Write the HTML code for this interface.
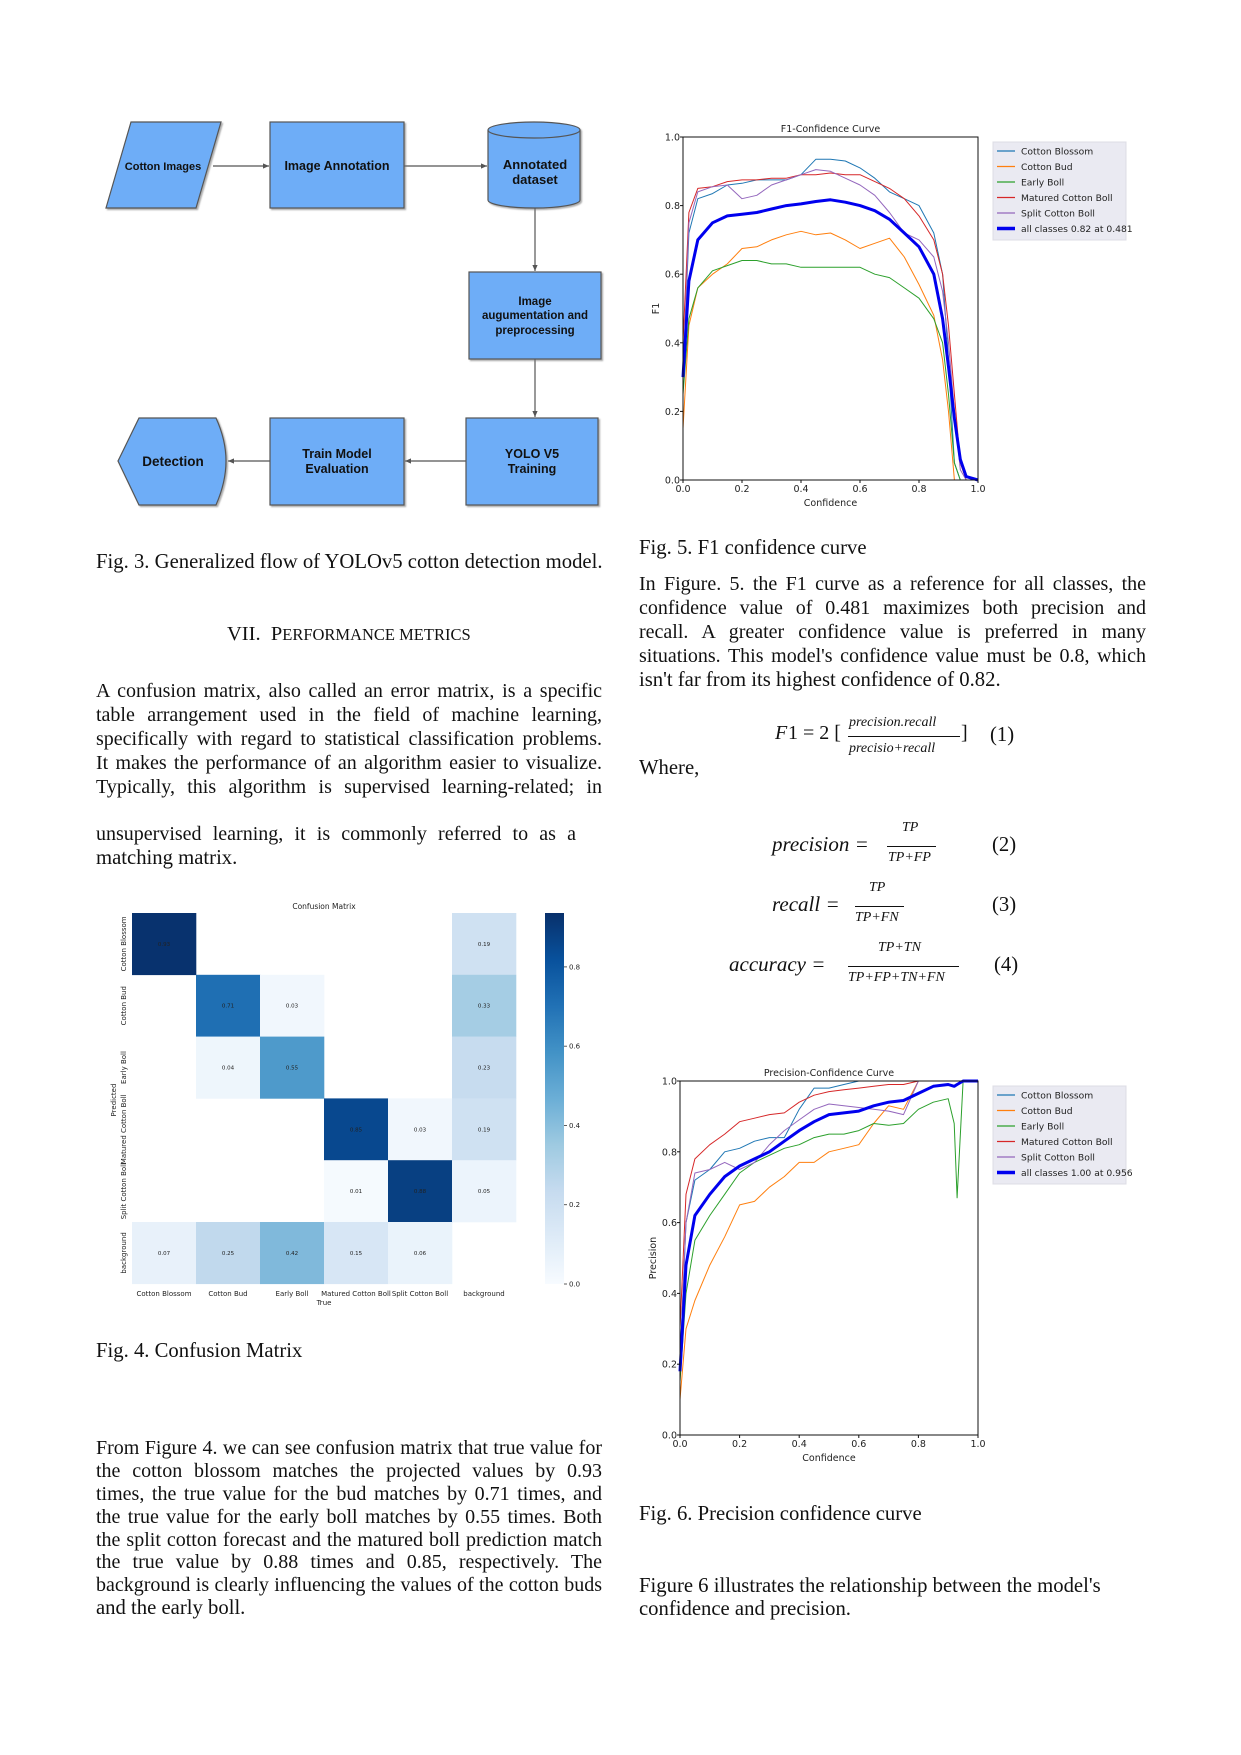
<!DOCTYPE html>
<html><head><meta charset="utf-8">
<style>
html,body{margin:0;padding:0;background:#fff}
body{width:1241px;height:1755px;position:relative;overflow:hidden;font-family:"Liberation Serif",serif;color:#111}
.t{position:absolute;font-size:20.7px;line-height:23px;white-space:nowrap}
.j{position:absolute;font-size:20px;line-height:23px;text-align:justify;text-align-last:justify;white-space:nowrap}
svg{position:absolute;left:0;top:0}
.fb{font-family:"Liberation Sans",sans-serif;font-weight:bold;font-size:12.5px;fill:#111}
.ax{font-family:"DejaVu Sans","Liberation Sans",sans-serif;font-size:9.5px;fill:#222}
.eq{position:absolute;font-family:"Liberation Serif",serif;font-style:italic;white-space:nowrap}
</style></head>
<body>
<svg width="1241" height="1755">
 <defs>
  <marker id="ar" markerWidth="6" markerHeight="6" refX="5" refY="3" orient="auto"><path d="M0,0.8 L5,3 L0,5.2 Z" fill="#555"/></marker>
  <filter id="sh"><feDropShadow dx="1.5" dy="1.5" stdDeviation="0.8" flood-color="#777" flood-opacity="0.6"/></filter>
  <linearGradient id="cbg" x1="0" y1="1" x2="0" y2="0">
   <stop offset="0" stop-color="#f7fbff"/><stop offset="0.125" stop-color="#deebf7"/><stop offset="0.25" stop-color="#c6dbef"/><stop offset="0.375" stop-color="#9ecae1"/><stop offset="0.5" stop-color="#6baed6"/><stop offset="0.625" stop-color="#4292c6"/><stop offset="0.75" stop-color="#2171b5"/><stop offset="0.875" stop-color="#08519c"/><stop offset="1" stop-color="#08306b"/>
  </linearGradient>
 </defs>
 <g stroke="#555" stroke-width="1.2">
  <line x1="213" y1="166" x2="269" y2="166" marker-end="url(#ar)"/>
  <line x1="404" y1="166" x2="487" y2="166" marker-end="url(#ar)"/>
  <line x1="535" y1="208" x2="535" y2="271" marker-end="url(#ar)"/>
  <line x1="535" y1="359" x2="535" y2="417" marker-end="url(#ar)"/>
  <line x1="466" y1="461" x2="405" y2="461" marker-end="url(#ar)"/>
  <line x1="270" y1="461" x2="228" y2="461" marker-end="url(#ar)"/>
  <g fill="#6eadf7" filter="url(#sh)">
   <polygon points="131,122 221,122 196,208 106,208"/>
   <rect x="270" y="122" width="134" height="86"/>
   <path d="M488,130 A46,8 0 0 1 580,130 L580,200 A46,8 0 0 1 488,200 Z"/>
   <rect x="469" y="272" width="132" height="87"/>
   <rect x="466" y="418" width="132" height="87"/>
   <rect x="270" y="418" width="134" height="87"/>
   <path d="M118,461 L139,418 L216,418 Q226,440 226,461 Q226,482 216,505 L139,505 Z"/>
  </g>
  <path d="M488,130 A46,8 0 0 0 580,130" fill="none"/>
 </g>
 <g text-anchor="middle">
  <text class="fb" x="163" y="170" style="font-size:11px">Cotton Images</text>
  <text class="fb" x="337" y="170">Image Annotation</text>
  <text class="fb" x="535" y="169" style="font-size:13px">Annotated</text>
  <text class="fb" x="535" y="184" style="font-size:13px">dataset</text>
  <text class="fb" x="535" y="305" style="font-size:11.5px">Image</text>
  <text class="fb" x="535" y="319" style="font-size:11.5px">augumentation and</text>
  <text class="fb" x="535" y="334" style="font-size:11.5px">preprocessing</text>
  <text class="fb" x="532" y="458">YOLO V5</text>
  <text class="fb" x="532" y="473">Training</text>
  <text class="fb" x="337" y="458">Train Model</text>
  <text class="fb" x="337" y="473">Evaluation</text>
  <text class="fb" x="173" y="466" style="font-size:13.5px">Detection</text>
 </g>
 <g id="f1chart"></g>
 <g id="prchart"></g>
 <g id="cmchart"></g>
</svg>

<div class="t" style="left:96px;top:551px">Fig. 3. Generalized flow of YOLOv5 cotton detection model.</div>
<div class="t" style="left:227px;top:623px;font-size:20.5px">VII.&nbsp; P<span style="font-size:16.5px">ERFORMANCE METRICS</span></div>

<div>
<div class="j" style="left:96px;width:506px;top:680px">A confusion matrix, also called an error matrix, is a specific</div>
<div class="j" style="left:96px;width:506px;top:704px">table arrangement used in the field of machine learning,</div>
<div class="j" style="left:96px;width:506px;top:728px">specifically with regard to statistical classification problems.</div>
<div class="j" style="left:96px;width:506px;top:752px">It makes the performance of an algorithm easier to visualize.</div>
<div class="j" style="left:96px;width:506px;top:776px">Typically, this algorithm is supervised learning-related; in</div>
<div class="j" style="left:96px;width:480px;top:823px">unsupervised learning, it is commonly referred to as a</div>
<div class="t" style="left:96px;top:847px">matching matrix.</div>
</div>

<div class="t" style="left:96px;top:1340px">Fig. 4. Confusion Matrix</div>
<div>
<div class="j" style="left:96px;width:506px;top:1437px">From Figure 4. we can see confusion matrix that true value for</div>
<div class="j" style="left:96px;width:506px;top:1460px">the cotton blossom matches the projected values by 0.93</div>
<div class="j" style="left:96px;width:506px;top:1483px">times, the true value for the bud matches by 0.71 times, and</div>
<div class="j" style="left:96px;width:506px;top:1506px">the true value for the early boll matches by 0.55 times. Both</div>
<div class="j" style="left:96px;width:506px;top:1529px">the split cotton forecast and the matured boll prediction match</div>
<div class="j" style="left:96px;width:506px;top:1551px">the true value by 0.88 times and 0.85, respectively. The</div>
<div class="j" style="left:96px;width:506px;top:1574px">background is clearly influencing the values of the cotton buds</div>
<div class="t" style="left:96px;top:1597px">and the early boll.</div>
</div>

<div class="t" style="left:639px;top:537px">Fig. 5. F1 confidence curve</div>
<div>
<div class="j" style="left:639px;width:507px;top:573px">In Figure. 5. the F1 curve as a reference for all classes, the</div>
<div class="j" style="left:639px;width:507px;top:597px">confidence value of 0.481 maximizes both precision and</div>
<div class="j" style="left:639px;width:507px;top:621px">recall. A greater confidence value is preferred in many</div>
<div class="j" style="left:639px;width:507px;top:645px">situations. This model's confidence value must be 0.8, which</div>
<div class="t" style="left:639px;top:669px">isn't far from its highest confidence of 0.82.</div>
</div>

<div>
<div class="eq" style="left:775px;top:722px;font-size:20px">F</div><div class="eq" style="left:788px;top:722px;font-size:20px;font-style:normal">1 = 2 [</div>
<div class="eq" style="left:849px;top:715px;font-size:14px">precision.recall</div>
<div style="position:absolute;left:848px;top:736px;width:112px;border-top:1px solid #111"></div>
<div class="eq" style="left:849px;top:741px;font-size:14px">precisio+recall</div>
<div class="eq" style="left:961px;top:722px;font-size:20px;font-style:normal">]</div>
<div class="t" style="left:990px;top:724px">(1)</div>
</div>
<div class="t" style="left:639px;top:757px">Where,</div>

<div>
<div class="eq" style="left:772px;top:832px;font-size:21px">precision =</div>
<div class="eq" style="left:902px;top:820px;font-size:14px">TP</div>
<div style="position:absolute;left:887px;top:846px;width:49px;border-top:1px solid #111"></div>
<div class="eq" style="left:888px;top:850px;font-size:14px">TP+FP</div>
<div class="t" style="left:992px;top:834px">(2)</div>
</div>
<div>
<div class="eq" style="left:772px;top:892px;font-size:21px">recall =</div>
<div class="eq" style="left:869px;top:880px;font-size:14px">TP</div>
<div style="position:absolute;left:855px;top:906px;width:49px;border-top:1px solid #111"></div>
<div class="eq" style="left:855px;top:910px;font-size:14px">TP+FN</div>
<div class="t" style="left:992px;top:894px">(3)</div>
</div>
<div>
<div class="eq" style="left:729px;top:952px;font-size:21px">accuracy =</div>
<div class="eq" style="left:878px;top:940px;font-size:14px">TP+TN</div>
<div style="position:absolute;left:848px;top:966px;width:111px;border-top:1px solid #111"></div>
<div class="eq" style="left:848px;top:970px;font-size:14px">TP+FP+TN+FN</div>
<div class="t" style="left:994px;top:954px">(4)</div>
</div>

<div class="t" style="left:639px;top:1503px">Fig. 6. Precision confidence curve</div>
<div>
<div class="t" style="left:639px;top:1575px">Figure 6 illustrates the relationship between the model's</div>
<div class="t" style="left:639px;top:1598px">confidence and precision.</div>
</div>

<script>
const NS="http://www.w3.org/2000/svg";
// ---- F1 curve data ----
const f1Conf=[0,0.02,0.05,0.1,0.15,0.2,0.25,0.3,0.35,0.4,0.45,0.5,0.55,0.6,0.65,0.7,0.75,0.8,0.85,0.88,0.9,0.92,0.94,0.96,1.0];
const f1Blossom=[0.3,0.72,0.82,0.835,0.86,0.865,0.875,0.875,0.875,0.89,0.935,0.935,0.93,0.91,0.88,0.84,0.82,0.8,0.72,0.6,0.35,0.05,0,0,0];
const f1Bud=[0.15,0.45,0.56,0.6,0.63,0.675,0.68,0.7,0.715,0.725,0.715,0.72,0.7,0.675,0.69,0.705,0.65,0.57,0.48,0.35,0.2,0,0,0,0];
const f1Early=[0.25,0.47,0.56,0.61,0.625,0.64,0.64,0.63,0.63,0.62,0.62,0.62,0.62,0.62,0.6,0.59,0.56,0.53,0.47,0.4,0.25,0.05,0,0,0];
const f1Matured=[0.4,0.78,0.85,0.855,0.87,0.875,0.875,0.88,0.88,0.89,0.89,0.895,0.89,0.89,0.87,0.85,0.82,0.77,0.7,0.6,0.45,0.25,0.05,0,0];
const f1Split=[0.3,0.75,0.84,0.855,0.86,0.82,0.83,0.86,0.875,0.89,0.905,0.9,0.88,0.86,0.83,0.78,0.72,0.7,0.65,0.55,0.4,0.2,0.03,0,0];
const f1All=[0.3,0.58,0.7,0.75,0.77,0.775,0.78,0.79,0.8,0.805,0.812,0.817,0.81,0.8,0.785,0.76,0.72,0.68,0.6,0.47,0.33,0.18,0.06,0.01,0];
// ---- Precision curve data ----
const prConf=[0,0.02,0.05,0.1,0.15,0.2,0.25,0.3,0.35,0.4,0.45,0.5,0.55,0.6,0.65,0.7,0.75,0.8,0.85,0.9,0.92,0.93,0.95,1.0];
const prBlossom=[0.2,0.6,0.72,0.75,0.8,0.81,0.83,0.84,0.84,0.92,0.98,0.98,0.99,1,1,1,1,1,1,1,1,1,1,1];
const prBud=[0.1,0.3,0.38,0.48,0.56,0.65,0.66,0.7,0.73,0.77,0.77,0.8,0.81,0.82,0.88,0.93,0.92,1,1,1,1,1,1,1];
const prEarly=[0.15,0.4,0.55,0.62,0.68,0.74,0.77,0.79,0.81,0.82,0.84,0.85,0.85,0.86,0.88,0.875,0.88,0.92,0.94,0.95,0.88,0.67,1,1];
const prMatured=[0.3,0.68,0.78,0.82,0.85,0.885,0.895,0.905,0.91,0.94,0.96,0.97,0.975,0.98,0.985,0.99,0.99,1,1,1,1,1,1,1];
const prSplit=[0.2,0.6,0.74,0.75,0.77,0.75,0.77,0.82,0.86,0.89,0.92,0.935,0.93,0.925,0.92,0.915,0.905,1,1,1,1,1,1,1];
const prAll=[0.18,0.48,0.62,0.68,0.73,0.76,0.78,0.8,0.83,0.86,0.885,0.905,0.91,0.915,0.93,0.94,0.945,0.965,0.985,0.99,0.985,0.99,1,1];
const axisTicks=[0,0.2,0.4,0.6,0.8,1.0];
const tickLabels=["0.0","0.2","0.4","0.6","0.8","1.0"];
const seriesNames=["Cotton Blossom","Cotton Bud","Early Boll","Matured Cotton Boll","Split Cotton Boll"];
const seriesColors=["#1f77b4","#ff7f0e","#2ca02c","#d62728","#9467bd"];
// ---- Confusion matrix data ----
const cmLabels=["Cotton Blossom","Cotton Bud","Early Boll","Matured Cotton Boll","Split Cotton Boll","background"];
const cmValues=[
 [0.93,0,0,0,0,0.19],
 [0,0.71,0.03,0,0,0.33],
 [0,0.04,0.55,0,0,0.23],
 [0,0,0,0.85,0.03,0.19],
 [0,0,0,0.01,0.88,0.05],
 [0.07,0.25,0.42,0.15,0.06,0]];
const cbTicks=[0,0.2,0.4,0.6,0.8];

function el(tag,attrs,parent){const e=document.createElementNS(NS,tag);for(const k in attrs)e.setAttribute(k,attrs[k]);parent.appendChild(e);return e;}

function curveChart(g,L,R,T,B,title,ylab,xs,series,allLabel,legT){
 const sx=c=>L+c*(R-L), sy=v=>B-v*(B-T);
 for(let i=0;i<series.length;i++){
  const d=xs.map((c,k)=>(k?"L":"M")+sx(c).toFixed(1)+","+sy(series[i][k]).toFixed(1)).join(" ");
  const p=el("path",{d:d,fill:"none",stroke:i<5?seriesColors[i]:"#0000ee","stroke-width":i<5?1:3,"stroke-linejoin":"round"},g);
  
  
 }
 const fr=el("rect",{x:L,y:T,width:R-L,height:B-T,fill:"none",stroke:"#111","stroke-width":1},g);
 
 
 axisTicks.forEach((v,i)=>{
  const a=el("text",{x:L-3,y:sy(v)+3.5,"text-anchor":"end",class:"ax"},g);a.textContent=tickLabels[i];
  
  
  el("line",{x1:L-3,x2:L,y1:sy(v),y2:sy(v),stroke:"#111"},g);
  const b=el("text",{x:sx(v),y:B+12,"text-anchor":"middle",class:"ax"},g);b.textContent=tickLabels[i];
  
  
  el("line",{x1:sx(v),x2:sx(v),y1:B,y2:B+3,stroke:"#111"},g);
 });
 const t=el("text",{x:(L+R)/2,y:T-5,"text-anchor":"middle",class:"ax"},g);t.textContent=title;
 
 
 const xl=el("text",{x:(L+R)/2,y:B+26,"text-anchor":"middle",class:"ax"},g);xl.textContent="Confidence";
 
 
 const yl=el("text",{x:L-24,y:(T+B)/2,"text-anchor":"middle",class:"ax",transform:"rotate(-90 "+(L-24)+" "+(T+B)/2+")"},g);yl.textContent=ylab;
 
 
 const lg=el("g",{},g);
 
 
 el("rect",{x:993,y:legT,width:133,height:98,fill:"#eaeaf2",stroke:"#dcdce4"},lg);
 const names=seriesNames.concat([allLabel]);
 names.forEach((n,i)=>{
  const y=legT+9+i*15.5;
  el("line",{x1:997,x2:1015,y1:y,y2:y,stroke:i<5?seriesColors[i]:"#0000ee","stroke-width":i<5?1.2:3.5},lg);
  const tx=el("text",{x:1021,y:y+3.5,class:"ax",style:"font-size:9.2px"},lg);tx.textContent=n;
  
  
 });
}
curveChart(document.getElementById("f1chart"),683,978,137,480,"F1-Confidence Curve","F1",f1Conf,
 [f1Blossom,f1Bud,f1Early,f1Matured,f1Split,f1All],"all classes 0.82 at 0.481",142);
curveChart(document.getElementById("prchart"),680,978,1081,1435,"Precision-Confidence Curve","Precision",prConf,
 [prBlossom,prBud,prEarly,prMatured,prSplit,prAll],"all classes 1.00 at 0.956",1086);

(function(){
 const g=document.getElementById("cmchart");
 const L=132,T=913,CW=64,RH=61.8,VMAX=0.936;
 const stops=[[247,251,255],[222,235,247],[198,219,239],[158,202,225],[107,174,214],[66,146,198],[33,113,181],[8,81,156],[8,48,107]];
 function cmap(v){let t=Math.min(1,v/VMAX)*8;const i=Math.min(7,Math.floor(t)),f=t-i;const a=stops[i],b=stops[i+1];
  return "rgb("+a.map((x,k)=>Math.round(x+(b[k]-x)*f)).join(",")+")";}
 cmValues.forEach((row,r)=>row.forEach((v,c)=>{
  if(v<=0)return;
  const rc=el("rect",{x:L+c*CW,y:T+r*RH,width:CW+0.3,height:RH+0.3,fill:cmap(v)},g);
  
  
  const tx=el("text",{x:L+c*CW+CW/2,y:T+r*RH+RH/2+2,"text-anchor":"middle",class:"ax",style:"font-size:5.5px",fill:v>0.45?"#fff":"#444"},g);
  tx.textContent=v.toFixed(2);
  
  
 }));
 cmLabels.forEach((n,i)=>{
  const y=T+i*RH+RH/2;
  const a=el("text",{x:126,y:y,"text-anchor":"middle",class:"ax",style:"font-size:7px",transform:"rotate(-90 126 "+y+")"},g);a.textContent=n;
  
  
  const x=L+i*CW+CW/2;
  const b=el("text",{x:x,y:1296,"text-anchor":"middle",class:"ax",style:"font-size:7px"},g);b.textContent=n;
  
  
 });
 const t=el("text",{x:324,y:909,"text-anchor":"middle",class:"ax",style:"font-size:7.5px"},g);t.textContent="Confusion Matrix";
 
 
 const xt=el("text",{x:324,y:1305,"text-anchor":"middle",class:"ax",style:"font-size:7px"},g);xt.textContent="True";
 
 
 const yt=el("text",{x:116,y:1100,"text-anchor":"middle",class:"ax",style:"font-size:7px",transform:"rotate(-90 116 1100)"},g);yt.textContent="Predicted";
 
 
 const cb=el("rect",{x:545,y:913,width:19,height:371,fill:"url(#cbg)"},g);
 
 
 cbTicks.forEach(v=>{
  const y=1284-v/VMAX*371;
  el("line",{x1:564,x2:567,y1:y,y2:y,stroke:"#333","stroke-width":0.8},g);
  const a=el("text",{x:569,y:y+2.5,class:"ax",style:"font-size:7px"},g);a.textContent=v.toFixed(1);
  
  
 });
})();
</script>
</body></html>
